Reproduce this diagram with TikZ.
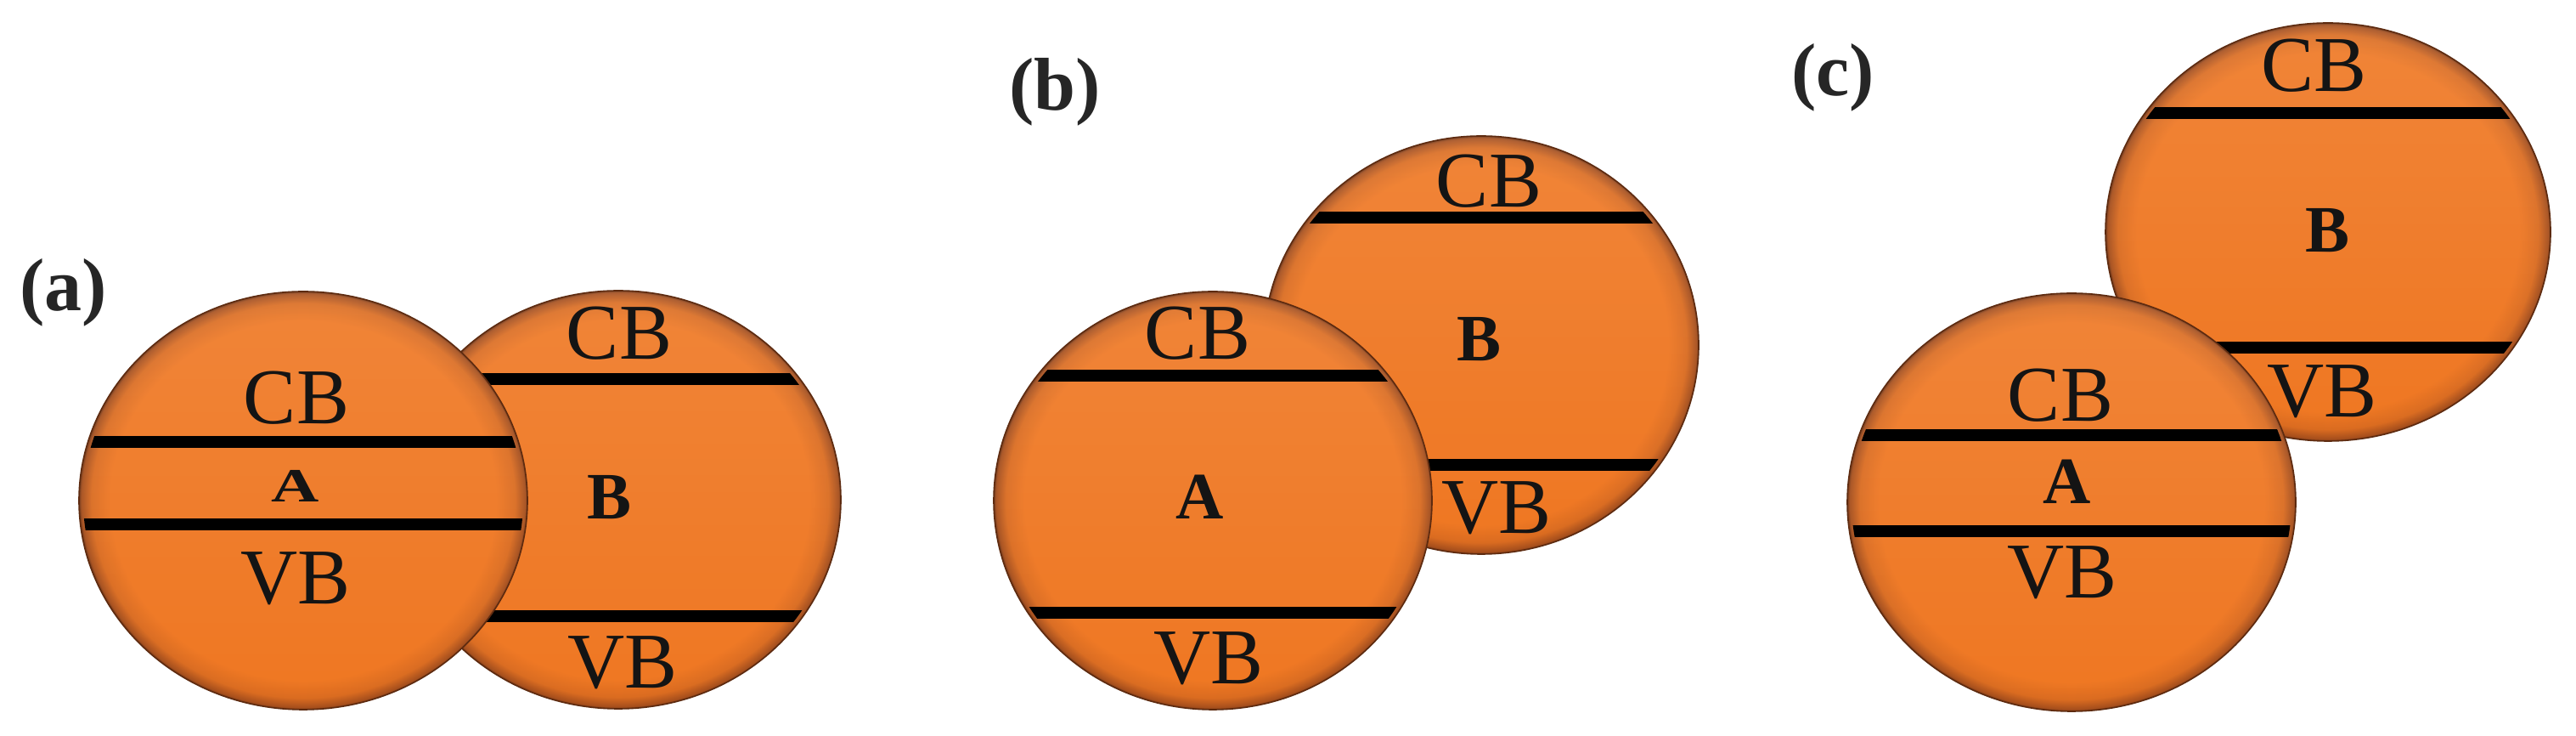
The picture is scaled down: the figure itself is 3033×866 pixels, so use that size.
\documentclass[tikz,border=0pt]{standalone}
\usepackage{fontspec}
\usepackage{graphicx}
\setmainfont{Liberation Serif}
\usetikzlibrary{fadings}
\definecolor{ballmid}{RGB}{239,119,34}
\definecolor{ballrim}{RGB}{165,78,28}
\definecolor{balledge}{RGB}{110,50,18}
\pgfdeclareradialshading{ballshade}{\pgfpoint{0bp}{0bp}}{color(0bp)=(ballmid); color(21.5bp)=(ballmid); color(23.6bp)=(ballmid!72!ballrim); color(24.75bp)=(ballrim); color(25bp)=(balledge); color(50bp)=(balledge)}
\tikzset{
  band/.style={line width=14pt, black},
  rimline/.style={draw=balledge!85!black, line width=1.6pt},
  lbl/.style={font=\fontsize{93}{93}\selectfont, inner sep=0pt, text=black!92},
  blbl/.style={font=\fontsize{78}{78}\selectfont\bfseries, inner sep=0pt, text=black!92},
  tag/.style={font=\fontsize{88}{88}\selectfont\bfseries, inner sep=0pt, text=black!85},
}
% #1 name, #2 cx, #3 cy, #4 x radius, #5 upper band y, #6 lower band y
\newcommand\drawballshape[6]{%
  \coordinate (#1) at (#2,#3);
  \shade[shading=ballshade] (#1) ellipse [x radius=#4, y radius=246];
  \fill[white, path fading=south, fill opacity=0.10] (#1) ellipse [x radius=#4, y radius=246];
  \begin{scope}
    \clip (#1) ellipse [x radius=#4-5, y radius=241];
    \draw[band] (#2-#4-10,#5) -- (#2+#4+10,#5);
    \draw[band] (#2-#4-10,#6) -- (#2+#4+10,#6);
  \end{scope}
  \draw[rimline] (#1) ellipse [x radius=#4, y radius=246];
}
\begin{document}
\begin{tikzpicture}[x=1pt,y=1pt]
\useasboundingbox[fill=white] (0,0) rectangle (3033,866);

% ---------- (a) ----------
\node[tag] (taga) at (75,522) {(a)};
\drawballshape{aB}{728}{278}{262}{420}{141}
\node[lbl]  (aBcb) at (729,474) {CB};
\node[blbl] (aBb)  at (718,281) {B};
\node[lbl]  (aBvb) at (733,86)  {VB};
\drawballshape{aA}{357}{277}{264}{346}{249}
\node[lbl]  (aAcb) at (349,398) {CB};
\node[blbl] (aAa)  at (348,294) {\scalebox{1}[0.72]{A}};
\node[lbl]  (aAvb) at (348,185) {VB};

% ---------- (b) ----------
\node[tag] (tagb) at (1242,758) {(b)};
\drawballshape{bB}{1744}{460}{256}{610}{319}
\node[lbl]  (bBcb) at (1753,653) {CB};
\node[blbl] (bBb)  at (1741,467) {B};
\node[lbl]  (bBvb) at (1762,268) {VB};
\drawballshape{bA}{1428}{277}{258}{424}{145}
\node[lbl]  (bAcb) at (1410,474) {CB};
\node[blbl] (bAa)  at (1413,281) {A};
\node[lbl]  (bAvb) at (1423,91)  {VB};

% ---------- (c) ----------
\node[tag] (tagc) at (2158,775) {(c)};
\drawballshape{cB}{2741}{593}{262}{733}{457}
\node[lbl]  (cBcb) at (2724,789) {CB};
\node[blbl] (cBb)  at (2740,595) {B};
\node[lbl]  (cBvb) at (2734,405) {VB};
\drawballshape{cA}{2439}{275}{264}{354}{241}
\node[lbl]  (cAcb) at (2426,401) {CB};
\node[blbl] (cAa)  at (2434,299) {A};
\node[lbl]  (cAvb) at (2428,192) {VB};
\end{tikzpicture}
\end{document}
